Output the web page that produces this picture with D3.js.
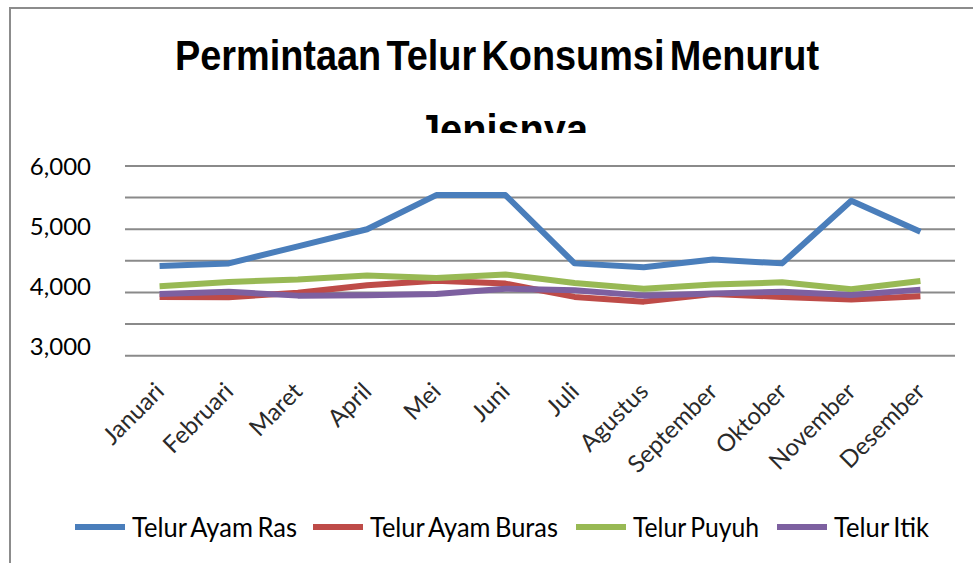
<!DOCTYPE html>
<html>
<head>
<meta charset="utf-8">
<script src="https://cdn.jsdelivr.net/npm/d3@7"></script>
<style>
  body { margin: 0; background: #fff; }
  svg { display: block; }
</style>
</head>
<body>
<div id="my_chart"></div>
<script>
// data
var bulan = ["Januari", "Februari", "Maret", "April", "Mei", "Juni", "Juli",
             "Agustus", "September", "Oktober", "November", "Desember"];
var ayamRas   = [4420, 4460, 4730, 5000, 5540, 5540, 4460, 4400, 4520, 4460, 5450, 4960];
var ayamBuras = [3930, 3925, 3995, 4115, 4185, 4140, 3930, 3855, 3975, 3930, 3890, 3940];
var puyuh     = [4100, 4165, 4205, 4270, 4230, 4285, 4150, 4060, 4125, 4160, 4050, 4180];
var itik      = [3975, 4010, 3950, 3955, 3975, 4060, 4035, 3950, 3985, 4010, 3960, 4045];
var namaSeri  = ["Telur Ayam Ras", "Telur Ayam Buras", "Telur Puyuh", "Telur Itik"];
var warna     = ["#4a7ebb", "#be4b48", "#98b954", "#7d60a0"];
var yTicks    = [3000, 3500, 4000, 4500, 5000, 5500, 6000];
var yLabels   = [3000, 4000, 5000, 6000];

var semua = [ayamRas, ayamBuras, puyuh, itik];

var W = 973, H = 563;
var svg = d3.select("#my_chart").append("svg")
    .attr("width", W).attr("height", H);

// chart frame
svg.append("rect")
    .attr("x", 10).attr("y", 8)
    .attr("width", W + 20).attr("height", H + 20)
    .attr("fill", "#fff")
    .attr("stroke", "#8c8c8c").attr("stroke-width", 2);

// title (second line is cut off by the plot area)
svg.append("clipPath").attr("id", "titleClip")
  .append("rect").attr("x", 0).attr("y", 0).attr("width", W).attr("height", 133);

var judul = svg.append("g").attr("clip-path", "url(#titleClip)")
    .style("font-family", "'Liberation Sans Narrow', 'Liberation Sans', Arial, sans-serif")
    .style("font-weight", "bold")
    .style("font-size", "43px")
    .style("word-spacing", "-6px")
    .attr("fill", "#000");
judul.append("text")
    .attr("x", 175).attr("y", 70)
    .attr("textLength", 644).attr("lengthAdjust", "spacingAndGlyphs")
    .text("Permintaan Telur Konsumsi Menurut");
judul.append("text")
    .attr("x", 418).attr("y", 144)
    .attr("textLength", 170).attr("lengthAdjust", "spacingAndGlyphs")
    .text("Jenisnya");

// scales
var x = d3.scaleBand().domain(bulan).range([125, 955]);
var y = d3.scaleLinear().domain([3000, 6000]).range([355.7, 166]);
var yLab = d3.scaleLinear().domain([3000, 6000]).range([346, 166]);

// gridlines
svg.append("g")
  .selectAll("line")
  .data(yTicks)
  .enter()
  .append("line")
    .attr("x1", 125).attr("x2", 955)
    .attr("y1", function(d) { return y(d); })
    .attr("y2", function(d) { return y(d); })
    .attr("stroke", "#8a8a8a").attr("stroke-width", 2);

// y labels
svg.append("g")
  .selectAll("text")
  .data(yLabels)
  .enter()
  .append("text")
    .attr("x", 91)
    .attr("y", function(d) { return yLab(d); })
    .attr("dy", "0.36em")
    .attr("text-anchor", "end")
    .style("font-family", "Lato, 'Open Sans', sans-serif")
    .style("font-size", "24px")
    .attr("fill", "#000")
    .text(function(d) { return d3.format(",")(d); });

// x labels
svg.append("g")
  .selectAll("text")
  .data(bulan)
  .enter()
  .append("text")
    .attr("transform", function(d) {
      return "translate(" + (x(d) + x.bandwidth() / 2 + 6) + ",393)rotate(-45)";
    })
    .attr("text-anchor", "end")
    .style("font-family", "Lato, 'Open Sans', sans-serif")
    .style("font-size", "24px")
    .attr("fill", "#2a2a2a")
    .text(function(d) { return d; });

// lines
var garis = d3.line()
    .x(function(d, i) { return x(bulan[i]) + x.bandwidth() / 2; })
    .y(function(d) { return y(d); });

svg.append("g")
  .selectAll("path")
  .data(semua)
  .enter()
  .append("path")
    .attr("d", garis)
    .attr("fill", "none")
    .attr("stroke", function(d, i) { return warna[i]; })
    .attr("stroke-width", 6)
    .attr("stroke-linejoin", "round");

// legend
var legX = [75, 313, 576, 777];
var legLen = [165, 188, 126, 95];
var leg = svg.append("g")
  .selectAll("g")
  .data(namaSeri)
  .enter()
  .append("g")
    .attr("transform", function(d, i) { return "translate(" + legX[i] + ",527)"; });
leg.append("line")
    .attr("x1", 0).attr("x2", 50)
    .attr("stroke", function(d, i) { return warna[i]; })
    .attr("stroke-width", 6);
leg.append("text")
    .attr("x", 57)
    .attr("dy", "0.36em")
    .attr("textLength", function(d, i) { return legLen[i]; })
    .attr("lengthAdjust", "spacingAndGlyphs")
    .style("font-family", "Lato, 'Open Sans', sans-serif")
    .style("font-size", "27px")
    .style("word-spacing", "-2px")
    .attr("fill", "#000")
    .text(function(d) { return d; });
</script>
</body>
</html>
